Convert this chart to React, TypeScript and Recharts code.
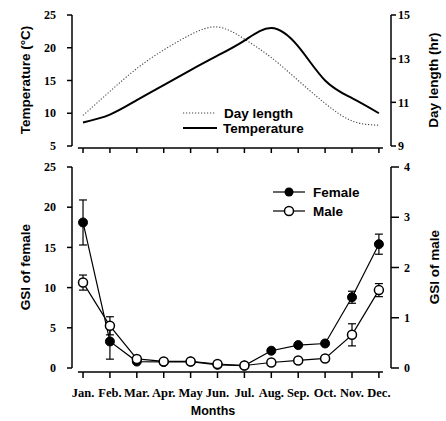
import React from 'react';
import { LineChart, Line, XAxis, YAxis, ErrorBar, ReferenceLine } from 'recharts';

const months = ['Jan.', 'Feb.', 'Mar.', 'Apr.', 'May', 'Jun.', 'Jul.', 'Aug.', 'Sep.', 'Oct.', 'Nov.', 'Dec.'];
const temperature = [8.6, 9.8, 12.0, 14.3, 16.6, 18.8, 21.1, 23.0, 20.2, 15.0, 12.3, 10.0];
const dayLength = [10.4, 11.5, 12.55, 13.4, 14.1, 14.45, 13.9, 13.05, 12.0, 10.95, 10.15, 9.95];
const femaleGSI = [18.1, 3.3, 0.8, 0.75, 0.8, 0.4, 0.3, 2.15, 2.85, 3.05, 8.8, 15.4];
const femaleErr = [2.8, 2.2, 0, 0, 0, 0, 0, 0, 0, 0, 0.75, 1.25];
const maleGSI = [1.7, 0.84, 0.18, 0.13, 0.13, 0.08, 0.05, 0.11, 0.15, 0.19, 0.66, 1.55];
const maleErr = [0.15, 0.18, 0, 0, 0, 0, 0, 0, 0, 0, 0.22, 0.13];

const tempTicks = [5, 10, 15, 20, 25];
const dayTicks = [9, 10, 11, 12, 13, 14, 15];
const femaleTicks = [0, 5, 10, 15, 20, 25];
const maleTicks = [0, 1, 2, 3, 4];
const monthTicks = months.map((_, i) => i + 1);

const rows = months.map((label, i) => ({
  m: i + 1,
  label,
  temp: temperature[i],
  day: dayLength[i],
  female: femaleGSI[i],
  fErr: femaleErr[i],
  male: maleGSI[i],
  mErr: maleErr[i],
}));

const serif = "'Liberation Serif', 'Times New Roman', serif";
const sans = "'Liberation Sans', Arial, sans-serif";
const xDomain: [number, number] = [0.59, 12.45];

function LeftTick({ x, y, payload }: any) {
  return (
    <g>
      <line x1={x} x2={x - 5} y1={y} y2={y} stroke="#000" strokeWidth={1.5} />
      <text x={x - 16} y={y} dy="0.35em" textAnchor="end" fontFamily={serif} fontWeight="bold" fontSize={12} fill="#000">
        {payload.value}
      </text>
    </g>
  );
}

function RightTick({ x, y, payload, minorOdd, len, gap }: any) {
  const minor = minorOdd && payload.value % 2 === 0;
  return (
    <g>
      <line x1={x} x2={x + (minor ? 3 : len)} y1={y} y2={y} stroke="#000" strokeWidth={1.5} />
      {!minor && (
        <text x={x + gap} y={y} dy="0.35em" textAnchor="start" fontFamily={serif} fontWeight="bold" fontSize={12} fill="#000">
          {payload.value}
        </text>
      )}
    </g>
  );
}

function MonthTick({ x, y, payload, gap, len, showLabel }: any) {
  return (
    <g>
      <line x1={x} x2={x} y1={y + gap} y2={y + gap + len} stroke="#000" strokeWidth={1.5} />
      {showLabel && (
        <text x={x} y={y + 25} dy="0.35em" textAnchor="middle" fontFamily={serif} fontWeight="bold" fontSize={12.5} fill="#000">
          {months[payload.value - 1]}
        </text>
      )}
    </g>
  );
}

function Overlay() {
  const t = { fontFamily: sans, fontWeight: 'bold', fontSize: 13.5, fill: '#000' } as const;
  return (
    <svg width={446} height={421} style={{ position: 'absolute', left: 0, top: 0, pointerEvents: 'none' }}>
      <text {...t} x={25} y={80} transform="rotate(-90 25 80)" textAnchor="middle" dominantBaseline="central">
        Temperature (°C)
      </text>
      <text {...t} x={433} y={80} transform="rotate(-90 433 80)" textAnchor="middle" dominantBaseline="central">
        Day length (hr)
      </text>
      <text {...t} x={25} y={267} transform="rotate(-90 25 267)" textAnchor="middle" dominantBaseline="central">
        GSI of female
      </text>
      <text {...t} x={434} y={267} transform="rotate(-90 434 267)" textAnchor="middle" dominantBaseline="central">
        GSI of male
      </text>
      <text {...t} fontSize={12.5} x={213} y={411} textAnchor="middle" dominantBaseline="central">
        Months
      </text>

      {/* top legend */}
      <line x1={183} x2={215} y1={113} y2={113} stroke="#444" strokeWidth={1.1} strokeDasharray="1.2 1.8" />
      <text {...t} x={224} y={113} dominantBaseline="central">Day length</text>
      <line x1={183} x2={217} y1={128} y2={128} stroke="#000" strokeWidth={2} />
      <text {...t} x={223} y={128} dominantBaseline="central">Temperature</text>

      {/* bottom legend */}
      <line x1={273} x2={305} y1={192} y2={192} stroke="#000" strokeWidth={1.2} />
      <circle cx={289} cy={192} r={4.5} fill="#000" />
      <text {...t} x={313} y={192} dominantBaseline="central">Female</text>
      <line x1={273} x2={305} y1={211} y2={211} stroke="#000" strokeWidth={1.2} />
      <circle cx={289} cy={211} r={4.5} fill="#fff" stroke="#000" strokeWidth={1.5} />
      <text {...t} x={313} y={211} dominantBaseline="central">Male</text>
    </svg>
  );
}

export default function App() {
  return (
    <div style={{ position: 'absolute', left: 0, top: 0, width: 446, height: 421, background: '#fff' }}>
      <div style={{ position: 'absolute', left: 0, top: 0 }}>
        <LineChart width={446} height={160} data={rows} margin={{ top: 15, right: 0, bottom: 0, left: 0 }}>
          <XAxis
            dataKey="m"
            type="number"
            domain={xDomain}
            ticks={monthTicks}
            height={14}
            axisLine={false}
            tickLine={false}
            tickSize={0}
            tickMargin={0}
            tick={<MonthTick gap={2} len={5} showLabel={false} />}
          />
          <YAxis
            yAxisId="temp"
            domain={[5, 25]}
            ticks={tempTicks}
            width={72}
            axisLine={{ stroke: '#000', strokeWidth: 1.5 }}
            tickLine={false}
            tickSize={0}
            tickMargin={0}
            tick={<LeftTick />}
          />
          <YAxis
            yAxisId="day"
            orientation="right"
            domain={[9, 15]}
            ticks={dayTicks}
            width={55}
            axisLine={{ stroke: '#000', strokeWidth: 1.5 }}
            tickLine={false}
            tickSize={0}
            tickMargin={0}
            tick={<RightTick minorOdd len={5} gap={7} />}
          />
          <ReferenceLine
            yAxisId="temp"
            ifOverflow="visible"
            segment={[{ x: 0.81, y: 4.7 }, { x: 12.15, y: 4.7 }]}
            stroke="#000"
            strokeWidth={1.5}
          />
          <Line
            yAxisId="day"
            dataKey="day"
            type="natural"
            stroke="#444"
            strokeWidth={1.1}
            strokeDasharray="1.2 1.8"
            dot={false}
            isAnimationActive={false}
          />
          <Line
            yAxisId="temp"
            dataKey="temp"
            type="natural"
            stroke="#000"
            strokeWidth={2}
            dot={false}
            isAnimationActive={false}
          />
        </LineChart>
      </div>
      <div style={{ position: 'absolute', left: 0, top: 150 }}>
        <LineChart width={446} height={271} data={rows} margin={{ top: 17, right: 0, bottom: 0, left: 0 }}>
          <XAxis
            dataKey="m"
            type="number"
            domain={xDomain}
            ticks={monthTicks}
            height={53}
            axisLine={false}
            tickLine={false}
            tickSize={0}
            tickMargin={0}
            tick={<MonthTick gap={4} len={6} showLabel />}
          />
          <YAxis
            yAxisId="female"
            domain={[0, 25]}
            ticks={femaleTicks}
            width={72}
            axisLine={{ stroke: '#000', strokeWidth: 1.5 }}
            tickLine={false}
            tickSize={0}
            tickMargin={0}
            tick={<LeftTick />}
          />
          <YAxis
            yAxisId="male"
            orientation="right"
            domain={[0, 4]}
            ticks={maleTicks}
            width={55}
            axisLine={{ stroke: '#000', strokeWidth: 1.5 }}
            tickLine={false}
            tickSize={0}
            tickMargin={0}
            tick={<RightTick len={8} gap={13} />}
          />
          <ReferenceLine
            yAxisId="female"
            ifOverflow="visible"
            segment={[{ x: 0.81, y: -0.5 }, { x: 12.15, y: -0.5 }]}
            stroke="#000"
            strokeWidth={1.5}
          />
          <Line
            yAxisId="female"
            dataKey="female"
            type="linear"
            stroke="#000"
            strokeWidth={1.2}
            dot={{ r: 4.5, fill: '#000', stroke: '#000', strokeWidth: 1 }}
            isAnimationActive={false}
          >
            <ErrorBar dataKey="fErr" width={4} stroke="#000" strokeWidth={1.2} direction="y" />
          </Line>
          <Line
            yAxisId="male"
            dataKey="male"
            type="linear"
            stroke="#000"
            strokeWidth={1.2}
            dot={{ r: 4.5, fill: '#fff', stroke: '#000', strokeWidth: 1.5 }}
            isAnimationActive={false}
          >
            <ErrorBar dataKey="mErr" width={4} stroke="#000" strokeWidth={1.2} direction="y" />
          </Line>
        </LineChart>
      </div>
      <Overlay />
    </div>
  );
}
